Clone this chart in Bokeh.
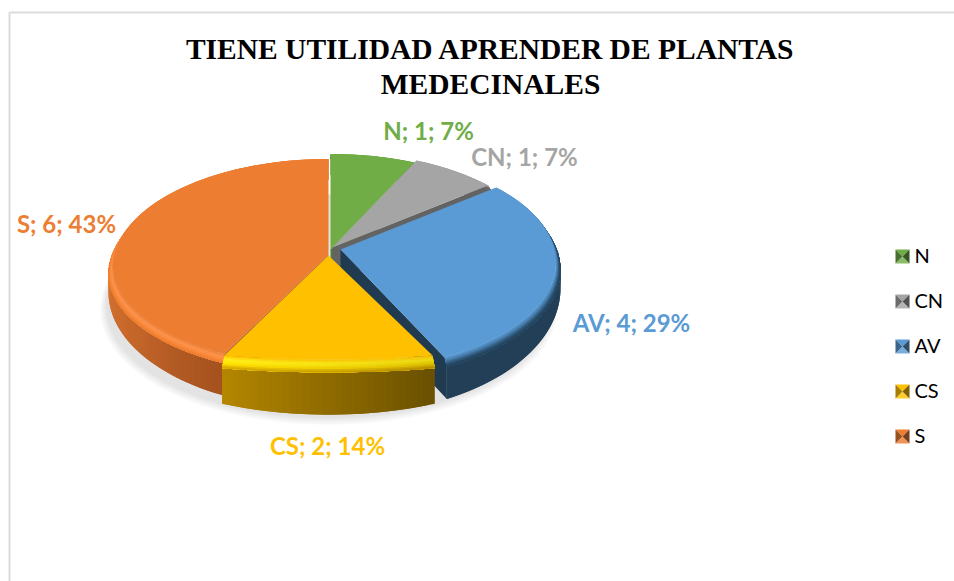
import math
from bokeh.plotting import figure
from bokeh.models import Range1d
from bokeh.core.properties import value
from bokeh.embed import file_html
from bokeh.resources import INLINE

# ---- data
names = ["N", "CN", "AV", "CS", "S"]
counts = [1, 1, 4, 2, 6]
base_colors = ["#70ad47", "#a5a5a5", "#5b9bd5", "#ffc000", "#ed7d31"]
title_lines = ["TIENE UTILIDAD APRENDER DE PLANTAS", "MEDECINALES"]

# ---- layout / style
W, H = 954, 581
Q, RHO, R_F, R_O = 0.12, 0.5, 214.0, 218.5
centers = {"N": (330, 249), "CN": (332, 247), "AV": (340, 249), "CS": (328, 255), "S": (328, 254)}
rim_dz = {"N": 7, "CN": 7, "AV": 7, "CS": 12, "S": 7}
cut_colors = {"N": "#4f7f30", "CN": "#636363", "AV": "#203a50", "S": "#b5602a"}
rim_stops = {
    "N": ["#70ad47", "#5f9a3c", "#4f7f30", "#446f2a"],
    "CN": ["#a5a5a5", "#8e8e8e", "#707070", "#636363"],
    "AV": ["#5b9bd5", "#4a80b0", "#2f5778", "#233f58"],
    "CS": ["#ffc000", "#fff01a", "#ffe000", "#d0a000"],
    "S": ["#ed7d31", "#fb9450", "#fb8a3c", "#ea7c30"],
}
label_pos = {"N": (428, 129.5), "CN": (524, 155.5), "AV": (631, 321.5), "CS": (327, 444.5), "S": (66, 222.5)}
legend_x, legend_ys = 895, [249, 294, 339, 384, 429]

total = sum(counts)
bounds, acc = {}, 0
for n, c in zip(names, counts):
    bounds[n] = (acc * 360 / total, (acc + c) * 360 / total)
    acc += c
color_of = dict(zip(names, base_colors))


def hex2rgb(h):
    return tuple(int(h[i:i + 2], 16) for i in (1, 3, 5))


def mix(a, b, t):
    t = max(0.0, min(1.0, t))
    ra, rb = hex2rgb(a), hex2rgb(b)
    return "#%02x%02x%02x" % tuple(round(x + (y - x) * t) for x, y in zip(ra, rb))


def raw(theta, R):
    th = math.radians(theta)
    c, s = math.cos(th), math.sin(th)
    w = 1 + Q * c
    return R * s / w, -R * RHO * c / w


def flat_y(n, dy):
    if n == "CS":
        return 100 + (dy - 108) * 0.3
    if n == "S" and dy > 0:
        return dy * 0.92
    return dy


def pt_flat(n, theta):
    x, y = raw(theta, R_F)
    cx, cy = centers[n]
    return cx + x, cy + flat_y(n, y)


def pt_rim(n, theta):
    x, y = raw(theta, R_O)
    cx, cy = centers[n]
    return cx + x, cy + flat_y(n, y) + rim_dz[n]


def pt_bottom(n, theta):
    x, y = raw(theta, R_O)
    cx, cy = centers[n]
    if n == "CS":
        return cx + x, cy + 148 + (y - 110.2) * 0.8
    c = math.cos(math.radians(theta))
    return cx + x, cy + flat_y(n, y) + rim_dz[n] + 16 + 18 * max(0.0, -c)


def side_color(n, theta):
    a, b = bounds[n]
    if n == "S":
        if theta < 235:
            return mix("#a5521f", "#c4662a", (theta - a) / (235 - a))
        return mix("#c4662a", "#dd7730", (theta - 235) / 35)
    if n == "CS":
        return mix("#6a5000", "#b68800", (theta - a) / (b - a))
    if n == "AV":
        return "#233f58"
    return cut_colors[n]


def steps(a, b, d=3.0):
    k = max(2, int((b - a) / d))
    return [a + (b - a) * i / k for i in range(k + 1)]


p = figure(width=W, height=H, x_range=Range1d(0, W), y_range=Range1d(H, 0),
           x_axis_location=None, y_axis_location=None, toolbar_location=None,
           output_backend="svg", min_border=0, outline_line_color=None)
p.grid.visible = False
p.background_fill_color = "#ffffff"

# frame
p.segment([9, 9], [12, 12], [9, W], [H, 12], line_color="#dcdcdc", line_width=2)

# soft shadow
for i in range(7):
    pts = [raw(t, 221 + i) for t in steps(0, 360, 6)]
    p.patch([328 + x for x, _ in pts], [292 + i * 0.6 + y for _, y in pts],
            fill_color="#808080", fill_alpha=0.035, line_color=None)

draw_order = ["S", "N", "CN", "AV", "CS"]
xs, ys, cols = [], [], []


def quad(x, y, col):
    xs.append(x)
    ys.append(y)
    cols.append(col)


# sides and cut faces; every strip runs on past its end so the next one overlaps it
for n in draw_order:
    a, b = bounds[n]
    cx, cy = centers[n]
    cut_t = {"N": b, "CN": b, "AV": b, "S": a}.get(n)
    if cut_t is not None:
        fp, rp, bp = pt_flat(n, cut_t), pt_rim(n, cut_t), pt_bottom(n, cut_t)
        quad([cx, fp[0], rp[0], bp[0], cx], [cy, fp[1], rp[1], bp[1], cy + 36], cut_colors[n])
    th = steps(a, b, 1.5)
    for i, t0 in enumerate(th[:-1]):
        t1 = th[min(i + 2, len(th) - 1)]
        r0, r1, b1, b0 = pt_rim(n, t0), pt_rim(n, t1), pt_bottom(n, t1), pt_bottom(n, t0)
        quad([r0[0], r1[0], b1[0], b0[0]], [r0[1], r1[1], b1[1], b0[1]], side_color(n, t0))

lerp = lambda P, R, u: (P[0] + (R[0] - P[0]) * u, P[1] + (R[1] - P[1]) * u)

# rim bands (inner first, each reaching to the outer edge) and top faces
BANDS = 8
for n in draw_order:
    a, b = bounds[n]
    th = steps(a, b, 2.0)
    stops = rim_stops[n]
    for j in range(BANDS):
        u0, u1 = j / BANDS, (j + 1) / BANDS
        um = (u0 + u1) / 2 * (len(stops) - 1)
        k = min(int(um), len(stops) - 2)
        col0 = mix(stops[k], stops[k + 1], um - k)
        for i, t0 in enumerate(th[:-1]):
            t1 = th[min(i + 2, len(th) - 1)]
            f0, f1, r0, r1 = pt_flat(n, t0), pt_flat(n, t1), pt_rim(n, t0), pt_rim(n, t1)
            A, B, C, D = lerp(f0, r0, u0), lerp(f1, r1, u0), lerp(f1, r1, 1.0), lerp(f0, r0, 1.0)
            col = col0
            if n == "CS":
                col = mix(col0, side_color(n, t0), 0.3 * (1 - (t0 - a) / (b - a)) * (u0 + 0.2))
            quad([A[0], B[0], C[0], D[0]], [A[1], B[1], C[1], D[1]], col)
    pts = [pt_flat(n, t) for t in steps(a, b, 1.5)]
    cx, cy = centers[n]
    quad([cx] + [q[0] for q in pts], [cy] + [q[1] for q in pts], color_of[n])

p.patches(xs, ys, fill_color=cols, line_color=None)

# title
p.text([490, 490], [48, 83], text=title_lines, text_font=value("Liberation Serif"),
       text_font_style="bold", text_font_size="29.5px", text_align="center",
       text_baseline="alphabetic", text_color="#000000")

# data labels
lx = [label_pos[n][0] for n in names]
ly = [label_pos[n][1] for n in names]
lt = [f"{n}; {c}; {round(100 * c / total)}%" for n, c in zip(names, counts)]
p.text(lx, ly, text=lt, text_font=value("Lato"), text_font_style="bold", text_font_size="24px",
       text_align="center", text_baseline="middle", text_color=base_colors)

# legend: pyramid swatches
S = 14
for n, ly0, col in zip(names, legend_ys, base_colors):
    x0, x1, y0, y1 = legend_x, legend_x + S, ly0, ly0 + S
    mx, my = (x0 + x1) / 2, (y0 + y1) / 2
    p.patches([[x0, x1, mx], [x0, x1, mx], [x0, x0, mx], [x1, x1, mx]],
              [[y0, y0, my], [y1, y1, my], [y0, y1, my], [y0, y1, my]],
              fill_color=[col, mix(col, "#ffffff", 0.18), mix(col, "#000000", 0.35), mix(col, "#000000", 0.5)],
              line_color=None)
p.text([legend_x + 19] * 5, [y + 5 for y in legend_ys], text=names, text_font=value("Lato"),
       text_font_size="20px", text_align="left", text_baseline="middle", text_color="#000000")

open("out.html", "w").write(file_html(p, INLINE))
